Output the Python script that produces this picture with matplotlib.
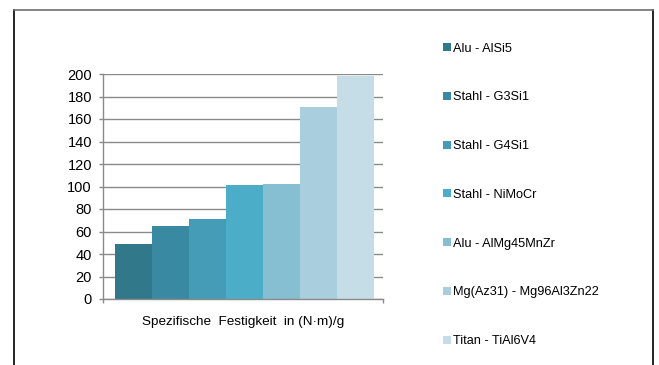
import matplotlib.pyplot as plt
from matplotlib.patches import Patch
from matplotlib.lines import Line2D

plt.rcParams['font.family'] = ['Liberation Sans', 'DejaVu Sans']

materials = ["Alu - AlSi5", "Stahl - G3Si1", "Stahl - G4Si1", "Stahl - NiMoCr",
             "Alu - AlMg45MnZr", "Mg(Az31) - Mg96Al3Zn22", "Titan - TiAl6V4"]
strength = [49, 65, 71, 101, 102, 171, 198]
colors = ["#31788A", "#3A89A2", "#459CB6", "#4BADC7", "#86BFD2", "#A9CEDD", "#C4DDE7"]
yticks = list(range(0, 201, 20))


def main():
    fig = plt.figure(figsize=(6.59, 3.65), dpi=100)
    W, H = 659, 365

    ax = fig.add_axes([103 / W, 1 - 299 / H, 280 / W, 225 / H])
    x = [i + 0.5 for i in range(len(strength))]
    ax.bar(x, strength, width=1.0, color=colors, zorder=2)

    ax.set_ylim(0, 200)
    ax.set_xlim(-0.32, 7.24)
    ax.set_yticks(yticks)
    ax.set_xticks([-0.32, 7.24])
    ax.set_xticklabels(["", ""])
    ax.yaxis.grid(True, color="#8a8a8a", linewidth=1.0, zorder=0)
    ax.tick_params(axis="y", length=3, width=1, color="#8a8a8a", labelsize=10.5, pad=5)
    ax.tick_params(axis="x", length=3, width=1, color="#8a8a8a")
    for s in ("top", "right"):
        ax.spines[s].set_visible(False)
    for s in ("left", "bottom"):
        ax.spines[s].set_color("#8a8a8a")
        ax.spines[s].set_linewidth(1.0)
    ax.set_xlabel("Spezifische  Festigkeit  in (N·m)/g", fontsize=9.7, labelpad=6)

    handles = [Patch(facecolor=c, edgecolor="none") for c in colors]
    fig.legend(handles, materials, loc="upper left", bbox_to_anchor=(443 / W, 1 - 42.5 / H),
               frameon=False, fontsize=9.2, handlelength=0.6, handleheight=0.6,
               handletextpad=0.15, labelspacing=2.88, borderaxespad=0, borderpad=0)

    # outer frame, open at the bottom
    fig.add_artist(Line2D([14 / W, 14 / W], [0, 1 - 10 / H], color="black", lw=1.2))
    fig.add_artist(Line2D([653 / W, 653 / W], [0, 1 - 10 / H], color="black", lw=1.2))
    fig.add_artist(Line2D([14 / W, 653 / W], [1 - 10 / H, 1 - 10 / H], color="#6e6e6e", lw=1.2))

    fig.savefig("out.png", dpi=100)


if __name__ == "__main__":
    main()
